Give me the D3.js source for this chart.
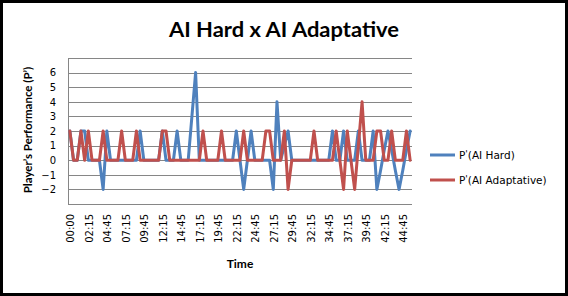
<!DOCTYPE html>
<html>
<head>
<meta charset="utf-8">
<script src="https://cdn.jsdelivr.net/npm/d3@7"></script>
<style>
  body { margin: 0; background: #fff; }
  svg { display: block; }
</style>
</head>
<body>
<svg id="chart" width="568" height="296"></svg>
<script>
// categories: one sample every 30 s (first step is 15 s)
const times = ["00:00","00:15","00:45","01:15","01:45","02:15","02:45","03:15","03:45","04:15",
  "04:45","05:15","05:45","06:15","06:45","07:15","07:45","08:15","08:45","09:15",
  "09:45","10:15","10:45","11:15","11:45","12:15","12:45","13:15","13:45","14:15",
  "14:45","15:15","15:45","16:15","16:45","17:15","17:45","18:15","18:45","19:15",
  "19:45","20:15","20:45","21:15","21:45","22:15","22:45","23:15","23:45","24:15",
  "24:45","25:15","25:45","26:15","26:45","27:15","27:45","28:15","28:45","29:15",
  "29:45","30:15","30:45","31:15","31:45","32:15","32:45","33:15","33:45","34:15",
  "34:45","35:15","35:45","36:15","36:45","37:15","37:45","38:15","38:45","39:15",
  "39:45","40:15","40:45","41:15","41:45","42:15","42:45","43:15","43:45","44:15",
  "44:45","45:15","45:45"];

const aiHard = [2,0,0,2,2,0,0,0,0,-2,
  2,0,0,0,0,0,0,0,0,2,
  0,0,0,0,0,2,0,0,0,2,
  0,0,0,3,6,0,0,0,0,0,
  0,0,0,0,0,2,0,-2,0,2,
  0,0,0,0,0,-2,4,0,1,2,
  0,0,0,0,0,0,0,0,0,0,
  0,2,0,0,2,0,0,0,2,0,
  0,0,2,-2,-0.7,0.7,2,0.7,-0.7,-2,
  -0.7,0.7,2];

const aiAdaptative = [2,0,0,2,0,2,0,0,0,2,
  0,0,0,0,2,0,0,0,2,0,
  0,0,0,0,0,2,2,0,0,0,
  0,0,0,0,0,0,2,0,0,0,
  0,2,0,0,0,0,0,2,0,0,
  0,0,0,2,2,0,0,0,2,-2,
  0,0,0,0,0,0,2,0,0,0,
  0,0,2,0,-2,2,0,-2,1,4,
  0,0,0,2,2,0,0,2,0,0,
  0,2,0];

const tickLabels = ["00:00","02:15","04:45","07:15","09:45","12:15","14:45","17:15","19:45","22:15",
  "24:45","27:15","29:45","32:15","34:45","37:15","39:45","42:15","44:45"];
const yTicks = [-2,-1,0,1,2,3,4,5,6];
const gridValues = [-2,-1,0,1,2,3,4,5,6,7];

const seriesNames = ["P'(AI Hard)", "P'(AI Adaptative)"];
const seriesColors = ["#4F81BD", "#C0504D"];

var svg = d3.select("#chart");

// plot area box
var plotLeft = 68, plotRight = 412, plotTop = 58, plotBottom = 204;

var x = d3.scaleBand()
    .domain(times)
    .range([plotLeft, plotRight]);

var y = d3.scaleLinear()
    .domain([-3, 7])
    .range([plotBottom, plotTop]);

// outer frame
svg.append("rect")
    .attr("x", 1.5).attr("y", 1.5)
    .attr("width", 565).attr("height", 293)
    .attr("fill", "#fff")
    .attr("stroke", "#000")
    .attr("stroke-width", 3);

// gridlines
svg.append("g")
    .selectAll("line")
    .data(gridValues)
    .join("line")
    .attr("x1", plotLeft).attr("x2", plotRight)
    .attr("y1", d => Math.round(y(d)) + 0.5)
    .attr("y2", d => Math.round(y(d)) + 0.5)
    .attr("stroke", "#868686")
    .attr("stroke-width", 1);

// axis lines
svg.append("line")
    .attr("x1", plotLeft + 0.5).attr("x2", plotLeft + 0.5)
    .attr("y1", plotTop).attr("y2", plotBottom + 0.5)
    .attr("stroke", "#868686");
svg.append("line")
    .attr("x1", plotLeft).attr("x2", plotRight)
    .attr("y1", plotBottom + 0.5).attr("y2", plotBottom + 0.5)
    .attr("stroke", "#868686");

// y axis labels
var yAxis = svg.append("g")
    .attr("transform", `translate(${plotLeft},0)`)
    .call(d3.axisLeft(y).tickValues(yTicks).tickSize(0).tickPadding(12));
yAxis.select(".domain").remove();
yAxis.selectAll("text")
    .attr("font-family", "DejaVu Sans")
    .attr("font-size", 10)
    .attr("fill", "#000");

// x axis labels, rotated
var xAxis = svg.append("g")
    .attr("transform", `translate(0,${plotBottom})`)
    .call(d3.axisBottom(x).tickValues(tickLabels).tickSize(0));
xAxis.select(".domain").remove();
xAxis.selectAll("text")
    .attr("transform", "rotate(-90)")
    .attr("x", -10)
    .attr("y", 1)
    .attr("dy", "0.35em")
    .style("text-anchor", "end")
    .attr("font-family", "DejaVu Sans")
    .attr("font-size", 10)
    .attr("fill", "#000");

// series lines
var line = d3.line()
    .x((d, i) => x(times[i]) + x.bandwidth() / 2)
    .y(d => y(d));

[aiHard, aiAdaptative].forEach((data, k) => {
    svg.append("path")
        .datum(data)
        .attr("fill", "none")
        .attr("stroke", seriesColors[k])
        .attr("stroke-width", 3)
        .attr("stroke-linejoin", "round")
        .attr("stroke-linecap", "round")
        .attr("d", line);
});

// title
svg.append("text")
    .attr("x", 284).attr("y", 37)
    .attr("text-anchor", "middle")
    .attr("font-family", "Lato")
    .attr("font-weight", "bold")
    .attr("font-size", 20)
    .attr("textLength", 230)
    .attr("lengthAdjust", "spacingAndGlyphs")
    .text("AI Hard x AI Adaptative");

// axis titles
svg.append("text")
    .attr("x", (plotLeft + plotRight) / 2).attr("y", 268)
    .attr("text-anchor", "middle")
    .attr("font-family", "Lato")
    .attr("font-weight", "bold")
    .attr("font-size", 12)
    .text("Time");

svg.append("text")
    .attr("transform", "translate(32,130) rotate(-90)")
    .attr("text-anchor", "middle")
    .attr("font-family", "Lato")
    .attr("font-weight", "bold")
    .attr("font-size", 11.5)
    .text("Player\u2019s Performance (P\u2019)");

// legend
var legend = svg.append("g");
seriesNames.forEach((name, k) => {
    var ly = 155 + k * 25;
    legend.append("line")
        .attr("x1", 430).attr("x2", 455)
        .attr("y1", ly).attr("y2", ly)
        .attr("stroke", seriesColors[k])
        .attr("stroke-width", 3);
    var t = legend.append("text")
        .attr("x", 459).attr("y", ly + 4)
        .attr("font-family", "DejaVu Sans")
        .attr("font-size", 10.5)
        .attr("fill", "#000");
    t.append("tspan").text("P");
    t.append("tspan").attr("dy", -2).attr("font-size", 9).text("'");
    t.append("tspan").attr("dy", 2).text(name.slice(2));
});
</script>
</body>
</html>
